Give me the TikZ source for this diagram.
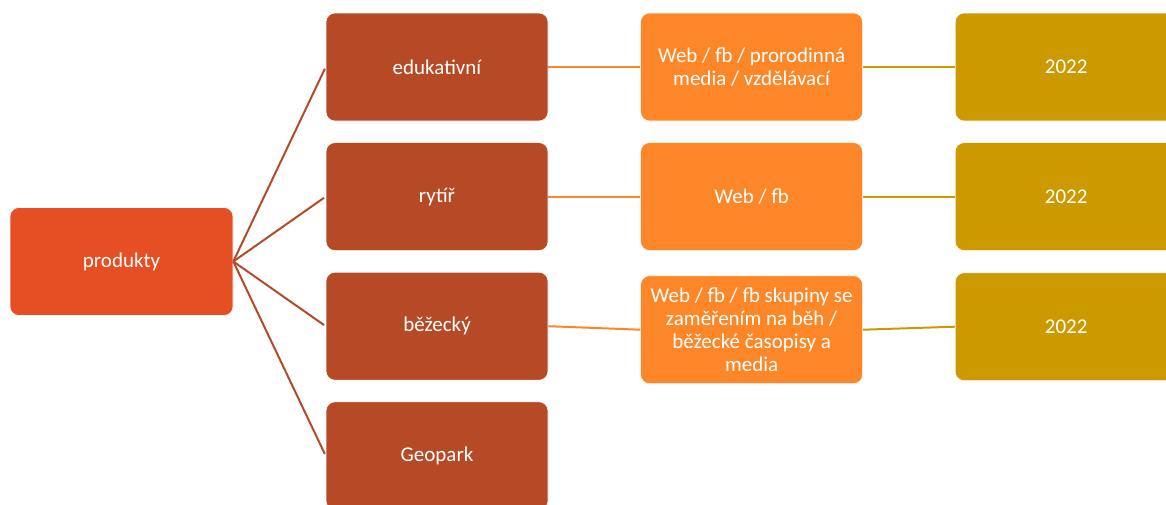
\documentclass[tikz,border=0pt]{standalone}
\usepackage{fontspec}
\setmainfont{Carlito}
\usetikzlibrary{positioning}
\definecolor{rootred}{HTML}{E64E24}
\definecolor{rust}{HTML}{B64A26}
\definecolor{tangerine}{HTML}{FD8728}
\definecolor{gold}{HTML}{CC9900}
\tikzset{box/.style={rectangle, rounded corners=9pt, minimum width=222pt, minimum height=108pt,
    text=white, align=center, font=\fontsize{21pt}{23pt}\selectfont, draw=white, line width=0.6pt}}

\begin{document}
\begin{tikzpicture}[x=1pt, y=1pt, node distance=21pt and 92pt, line width=2pt]
        \useasboundingbox (0,0) rectangle (1166,-504);
        \node[box, fill=rootred, minimum width=223pt] (prod) at (121.5,-261.5) {produkty}; %root
        \node[box, fill=rust] (edu) at (437,-67) {edukativní};
        \node[box, fill=rust] (ryt) [below=of edu] {rytíř};
        \node[box, fill=rust] (bez) [below=of ryt] {běžecký};
        \node[box, fill=rust] (geo) [below=of bez] {Geopark};
        \node[box, fill=tangerine] (medu) [right=of edu] {Web / fb / prorodinná\\media / vzdělávací};
        \node[box, fill=tangerine] (mryt) [right=of ryt] {Web / fb};
        \node[box, fill=tangerine] (mbez) [right=of bez, yshift=-3.5pt] {Web / fb / fb skupiny se\\zaměřením na běh /\\běžecké časopisy a\\media};
        \node[box, fill=gold] (yedu) [right=of medu] {2022};
        \node[box, fill=gold] (yryt) [right=of mryt] {2022};
        \node[box, fill=gold] (ybez) [right=of mbez, yshift=3pt] {2022};

        \path[rust, shorten >=2pt]
        (prod.east) edge (edu.west)
        (prod.east) edge (ryt.west)
        (prod.east) edge (bez.west)
        (prod.east) edge (geo.west);

        \path[tangerine]
        (edu) edge (medu)
        (ryt) edge (mryt)
        (bez.east) edge (mbez.west);

        \path[gold]
        (medu) edge (yedu)
        (mryt) edge (yryt)
        (mbez.east) edge (ybez.west);
      \end{tikzpicture}
\end{document}
